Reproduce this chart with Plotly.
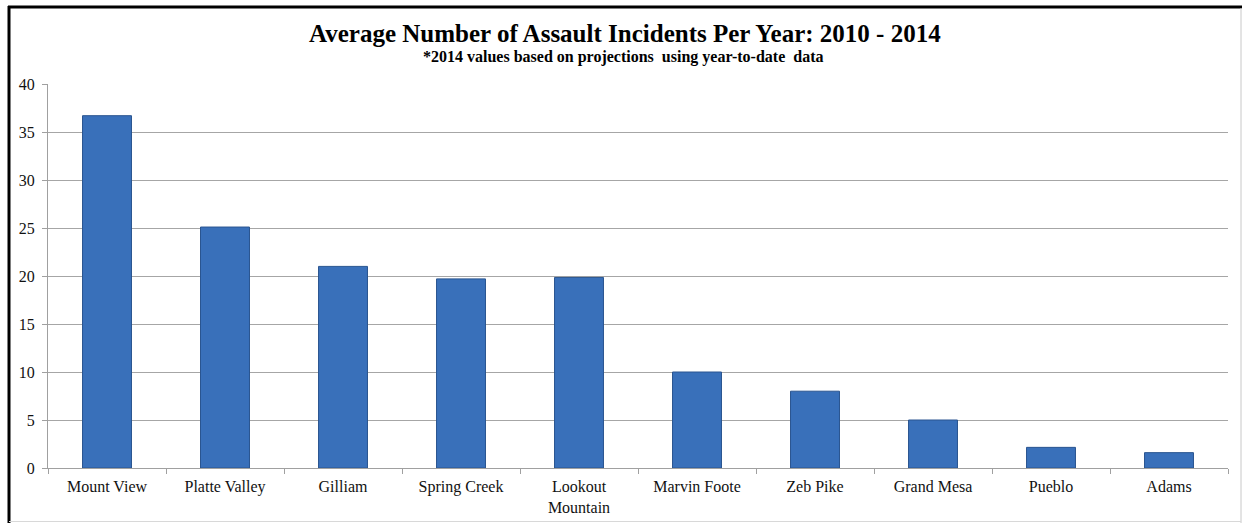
import plotly.graph_objects as go

categories = ["Mount View", "Platte Valley", "Gilliam", "Spring Creek", "Lookout<br>Mountain",
              "Marvin Foote", "Zeb Pike", "Grand Mesa", "Pueblo", "Adams"]
values = [36.7, 25.1, 21.0, 19.7, 19.85, 10.0, 8.0, 5.0, 2.15, 1.6]
y_ticks = [0, 5, 10, 15, 20, 25, 30, 35, 40]

W, H = 1242, 523
L, R, T, B = 48, 14, 84, 55
pw, ph = W - L - R, H - T - B

def px_x(px):
    return (px - L) / pw

def px_y(py):
    return (H - B - py) / ph

fig = go.Figure()
fig.add_trace(go.Bar(
    x=categories, y=values,
    width=0.415,
    marker=dict(color="#3970BA", line=dict(color="#2A5590", width=1)),
    hoverinfo="x+y",
))

serif = "Liberation Serif, Times New Roman, serif"

fig.update_layout(
    width=W, height=H,
    margin=dict(l=L, r=R, t=T, b=B, autoexpand=False),
    paper_bgcolor="white", plot_bgcolor="white",
    showlegend=False,
    font=dict(family=serif, color="#111111", size=16),
    xaxis=dict(
        showline=True, linecolor="#A0A0A0", linewidth=1,
        ticks="outside", tickson="boundaries", ticklen=5, tickcolor="#A0A0A0",
        showgrid=False, tickfont=dict(family=serif, size=16, color="#111111"),
        tickangle=0, ticklabelstandoff=4, automargin=False,
    ),
    yaxis=dict(
        range=[0, 40], tickvals=y_ticks,
        showline=True, linecolor="#A0A0A0", linewidth=1,
        ticks="outside", ticklen=5, tickcolor="#A0A0A0",
        showgrid=True, gridcolor="#A6A6A6", gridwidth=1,
        zeroline=False, ticklabelstandoff=4, automargin=False,
        tickfont=dict(family=serif, size=16, color="#111111"),
    ),
    annotations=[
        dict(text="<b>Average Number of Assault Incidents Per Year: 2010 - 2014</b>",
             xref="paper", yref="paper", x=px_x(625), y=px_y(33),
             xanchor="center", yanchor="middle", showarrow=False,
             font=dict(family=serif, size=25, color="#000000")),
        dict(text="<b>*2014 values based on projections  using year-to-date  data</b>",
             xref="paper", yref="paper", x=px_x(623), y=px_y(57),
             xanchor="center", yanchor="middle", showarrow=False,
             font=dict(family=serif, size=16, color="#000000")),
    ],
    shapes=[
        dict(type="line", xref="paper", yref="paper", x0=px_x(8), x1=px_x(1242), y0=px_y(7), y1=px_y(7),
             line=dict(color="#000000", width=3)),
        dict(type="line", xref="paper", yref="paper", x0=px_x(9), x1=px_x(9), y0=px_y(6), y1=px_y(523),
             line=dict(color="#000000", width=3)),
        dict(type="line", xref="paper", yref="paper", x0=px_x(1241), x1=px_x(1241), y0=px_y(8), y1=px_y(523),
             line=dict(color="#C8C8C8", width=1)),
        dict(type="line", xref="paper", yref="paper", x0=px_x(9), x1=px_x(1241), y0=px_y(521.5), y1=px_y(521.5),
             line=dict(color="#D8D8D8", width=1)),
    ],
)

fig.write_html("out.html")
